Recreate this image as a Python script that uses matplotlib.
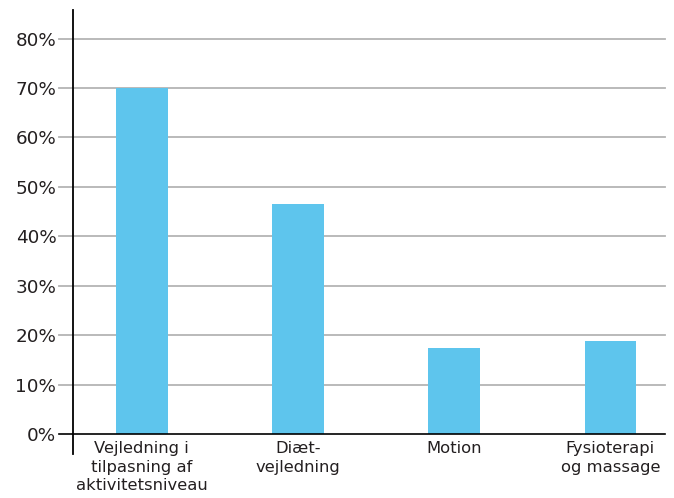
import matplotlib
matplotlib.use("Agg")
import matplotlib.pyplot as plt
import numpy as np

categories = ["Vejledning i\ntilpasning af\naktivitetsniveau", "Diæt-\nvejledning", "Motion", "Fysioterapi\nog massage"]
values = [70.0, 46.6, 17.5, 18.8]
yticks = [0, 10, 20, 30, 40, 50, 60, 70, 80]
ytick_labels = [f"{t}%" for t in yticks]

plt.rcParams['font.family'] = ['DejaVu Sans']
text_color = "#231f20"
bar_color = "#5ec5ed"
grid_color = "#b4b4b4"

fig = plt.figure(figsize=(6.74, 4.98), dpi=100)
ax = fig.add_axes([73/674, 1 - 434/498, (665 - 73)/674, (434 - 10)/498])

x = np.arange(len(categories))
ax.bar(x, values, width=0.33, color=bar_color, zorder=3)

ax.set_xlim(-0.44, 3.35)
ax.set_ylim(0, 85.8)

# horizontal gridlines, extended left of the axis as tick marks
for t in yticks[1:]:
    ax.plot([-0.53, 3.35], [t, t], color=grid_color, lw=1.3, zorder=1, clip_on=False)
# baseline
ax.plot([-0.53, 3.35], [0, 0], color="black", lw=1.2, zorder=4, clip_on=False)
# vertical axis line extending below the baseline
ax.plot([-0.44, -0.44], [-4.1, 85.8], color="black", lw=1.3, zorder=4, clip_on=False)

for s in ax.spines.values():
    s.set_visible(False)

ax.set_yticks(yticks)
ax.set_yticklabels(ytick_labels, fontsize=13.2, color=text_color)
ax.tick_params(axis='y', length=0, pad=12)

ax.set_xticks(x)
ax.set_xticklabels(categories, fontsize=11.8, color=text_color, linespacing=1.3)
ax.tick_params(axis='x', length=0, pad=5)

fig.savefig("out.png", dpi=100)
